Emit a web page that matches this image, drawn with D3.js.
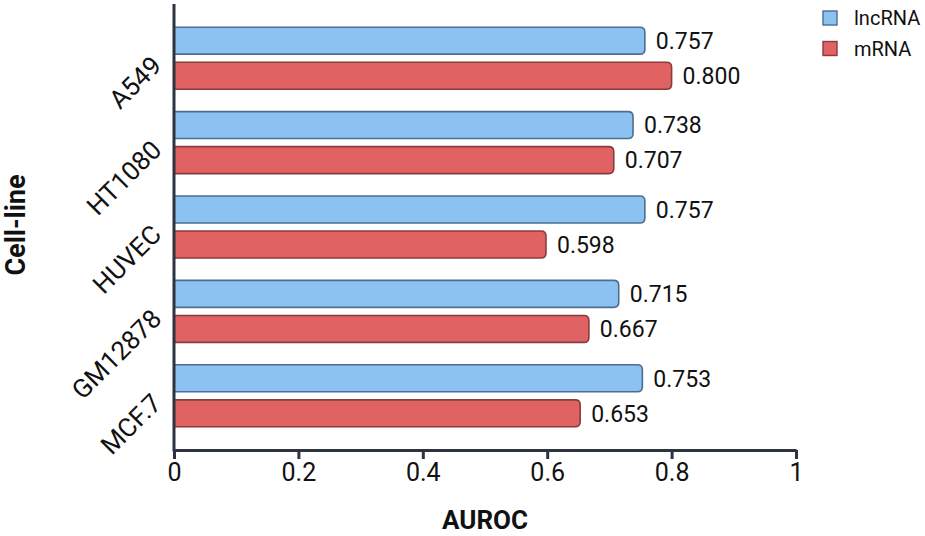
<!DOCTYPE html>
<html lang="en">
<head>
    <meta charset="UTF-8">
    <title>AUROC by cell line</title>
    <script src="https://d3js.org/d3.v7.min.js"></script>
    <style>
        * { margin: 0; padding: 0; box-sizing: border-box; }
        html, body { width: 925px; height: 536px; overflow: hidden; background: #fff; }
        svg { display: block; font-family: Roboto, sans-serif; }
    </style>
</head>
<body>
<svg id="chart" width="925" height="536"></svg>
<script>
    const cellLines = ["A549", "HT1080", "HUVEC", "GM12878", "MCF.7"]
    const seriesNames = ["lncRNA", "mRNA"]
    const lncRNA = [0.757, 0.738, 0.757, 0.715, 0.753]
    const mRNA = [0.800, 0.707, 0.598, 0.667, 0.653]
    const xTicks = [0, 0.2, 0.4, 0.6, 0.8, 1]

    const fills = { lncRNA: "#8cc2f2", mRNA: "#e06262" }
    const strokes = { lncRNA: "#4e6d8f", mRNA: "#8a3b3d" }
    const axisColor = "#2d3440"

    const svg = d3.select("#chart")
    const x = d3.scaleLinear().domain([0, 1]).range([174, 796])
    const y = d3.scaleBand().domain(cellLines).range([16, 438])
        .paddingInner(0.265).paddingOuter(0.1325)
    const ySub = d3.scaleBand().domain(seriesNames).range([0, y.bandwidth()])
        .paddingInner(0.23)

    const rows = cellLines.map((c, i) => ({ c, vals: [
        { s: "lncRNA", v: lncRNA[i] },
        { s: "mRNA", v: mRNA[i] },
    ] }))

    // bar with only the right corners rounded
    const barPath = (x0, y0, w, h, r) =>
        `M${x0},${y0}H${x0 + w - r}Q${x0 + w},${y0} ${x0 + w},${y0 + r}` +
        `V${y0 + h - r}Q${x0 + w},${y0 + h} ${x0 + w - r},${y0 + h}H${x0}Z`

    const groups = svg.selectAll("g.row")
        .data(rows)
        .join("g")
        .attr("class", "row")
        .attr("transform", d => `translate(0 ${y(d.c)})`)

    groups.selectAll("path")
        .data(d => d.vals)
        .join("path")
        .attr("d", d => barPath(x(0), ySub(d.s), x(d.v) - x(0), ySub.bandwidth(), 5))
        .attr("fill", d => fills[d.s])
        .attr("stroke", d => strokes[d.s])
        .attr("stroke-width", 1.6)

    groups.selectAll("text")
        .data(d => d.vals)
        .join("text")
        .attr("x", d => x(d.v) + 11)
        .attr("y", d => ySub(d.s) + ySub.bandwidth() / 2)
        .attr("dy", "0.36em")
        .attr("font-size", 23)
        .attr("fill", "#111")
        .text(d => d.v.toFixed(3))

    // x axis
    const xAxis = svg.append("g")
        .attr("transform", "translate(0 450)")
        .call(d3.axisBottom(x).tickValues(xTicks).tickFormat(d3.format("")).tickSize(9).tickSizeOuter(0))
    xAxis.select(".domain").attr("stroke", axisColor).attr("stroke-width", 3)
    xAxis.selectAll(".tick line").attr("stroke", axisColor).attr("stroke-width", 3)
    xAxis.selectAll(".tick text")
        .attr("font-family", "Roboto, sans-serif")
        .attr("font-size", 25)
        .attr("fill", "#111")
        .attr("y", 13)

    // y axis
    svg.append("line")
        .attr("x1", x(0)).attr("x2", x(0))
        .attr("y1", 4).attr("y2", 451.5)
        .attr("stroke", axisColor)
        .attr("stroke-width", 3)

    svg.selectAll("text.cat")
        .data(cellLines)
        .join("text")
        .attr("class", "cat")
        .attr("text-anchor", "end")
        .attr("font-size", 26)
        .attr("fill", "#111")
        .attr("transform", d => `translate(163 ${y(d) + y.bandwidth() / 2 + 9}) rotate(-45)`)
        .text(d => d)

    svg.append("text")
        .attr("x", x(0.5))
        .attr("y", 529)
        .attr("text-anchor", "middle")
        .attr("font-size", 26)
        .attr("font-weight", "bold")
        .attr("fill", "#111")
        .text("AUROC")

    svg.append("text")
        .attr("transform", `translate(25 ${225}) rotate(-90)`)
        .attr("text-anchor", "middle")
        .attr("font-size", 27)
        .attr("font-weight", "bold")
        .attr("fill", "#111")
        .text("Cell-line")

    // legend
    const legend = svg.selectAll("g.legend")
        .data(seriesNames)
        .join("g")
        .attr("class", "legend")
        .attr("transform", (d, i) => `translate(823 ${11 + i * 30.5})`)
    legend.append("rect")
        .attr("width", 14).attr("height", 14)
        .attr("fill", d => fills[d])
        .attr("stroke", d => strokes[d])
        .attr("stroke-width", 1.4)
    legend.append("text")
        .attr("x", 31)
        .attr("y", 14)
        .attr("font-size", 20)
        .attr("fill", "#111")
        .text(d => d)
</script>
</body>
</html>
